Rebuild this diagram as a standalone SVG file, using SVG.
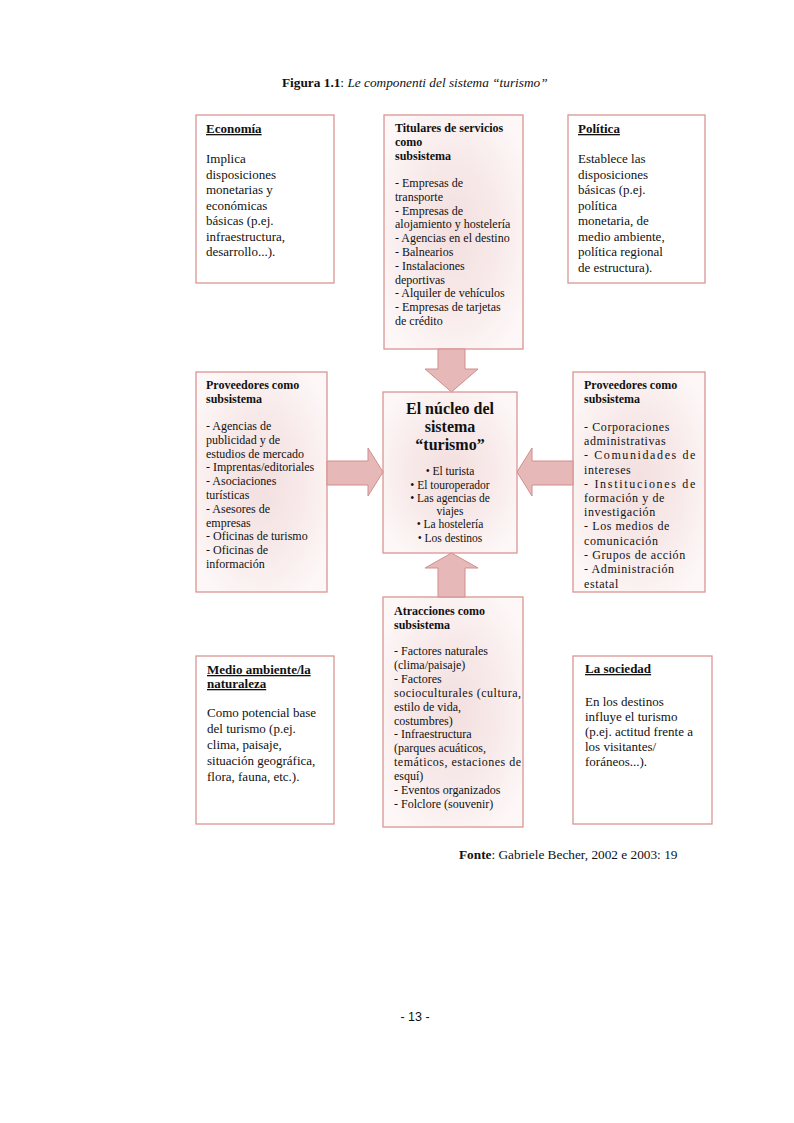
<svg xmlns="http://www.w3.org/2000/svg" width="794" height="1123" viewBox="0 0 794 1123">
<style>
text{font-family:"Liberation Serif","Times New Roman",serif;fill:#111}
.t{font-size:13px}
.h{font-size:13px;font-weight:bold;text-decoration:underline}
.s{font-size:12px}
.b{font-size:11.5px}
.sh{font-size:12px;font-weight:bold}
.plain{fill:#fff;stroke:#d99694;stroke-width:1.3}
.grad{fill:url(#rg);stroke:#d99694;stroke-width:1.3}
.arrow{fill:#e6b9b8;stroke:#d08f8d;stroke-width:1}
</style>
<defs>
<radialGradient id="rg" cx="50%" cy="50%" r="60%">
<stop offset="0" stop-color="#f3dfdf"/>
<stop offset="0.55" stop-color="#f8eaea"/>
<stop offset="1" stop-color="#fdf7f7"/>
</radialGradient>
</defs>
<rect width="794" height="1123" fill="#fff"/>

<text x="282" y="87" font-size="13.3"><tspan font-weight="bold">Figura 1.1</tspan>: <tspan font-style="italic">Le componenti del sistema “turismo”</tspan></text>

<g id="economia">
<rect class="plain" x="196" y="115" width="138" height="168"/>
<text class="h" x="206" y="133">Economía</text>
<text class="t" x="206" y="163">Implica</text>
<text class="t" x="206" y="178.5">disposiciones</text>
<text class="t" x="206" y="194">monetarias y</text>
<text class="t" x="206" y="209.5">económicas</text>
<text class="t" x="206" y="225">básicas (p.ej.</text>
<text class="t" x="206" y="240.5">infraestructura,</text>
<text class="t" x="206" y="256">desarrollo...).</text>
</g>

<g id="titulares">
<rect class="grad" x="384" y="115" width="139" height="234"/>
<text class="sh" x="395" y="132">Titulares de servicios</text>
<text class="sh" x="395" y="146">como</text>
<text class="sh" x="395" y="160">subsistema</text>
<text class="s" x="395" y="187">- Empresas de</text>
<text class="s" x="395" y="200.8">transporte</text>
<text class="s" x="395" y="214.6">- Empresas de</text>
<text class="s" x="395" y="228.4">alojamiento y hostelería</text>
<text class="s" x="395" y="242.2">- Agencias en el destino</text>
<text class="s" x="395" y="256">- Balnearios</text>
<text class="s" x="395" y="269.8">- Instalaciones</text>
<text class="s" x="395" y="283.6">deportivas</text>
<text class="s" x="395" y="297.4">- Alquiler de vehículos</text>
<text class="s" x="395" y="311.2">- Empresas de tarjetas</text>
<text class="s" x="395" y="325">de crédito</text>
</g>

<g id="politica">
<rect class="plain" x="568" y="115" width="137" height="168"/>
<text class="h" x="578" y="133">Política</text>
<text class="t" x="578" y="163">Establece las</text>
<text class="t" x="578" y="178.5">disposiciones</text>
<text class="t" x="578" y="194">básicas (p.ej.</text>
<text class="t" x="578" y="209.5">política</text>
<text class="t" x="578" y="225">monetaria, de</text>
<text class="t" x="578" y="240.5">medio ambiente,</text>
<text class="t" x="578" y="256">política regional</text>
<text class="t" x="578" y="271.5">de estructura).</text>
</g>

<g id="proveedores-izq">
<rect class="grad" x="196" y="372" width="131" height="220"/>
<text class="sh" x="206" y="389">Proveedores como</text>
<text class="sh" x="206" y="403">subsistema</text>
<text class="s" x="206" y="430">- Agencias de</text>
<text class="s" x="206" y="443.8">publicidad y de</text>
<text class="s" x="206" y="457.6">estudios de mercado</text>
<text class="s" x="206" y="471.4">- Imprentas/editoriales</text>
<text class="s" x="206" y="485.2">- Asociaciones</text>
<text class="s" x="206" y="499">turísticas</text>
<text class="s" x="206" y="512.8">- Asesores de</text>
<text class="s" x="206" y="526.6">empresas</text>
<text class="s" x="206" y="540.4">- Oficinas de turismo</text>
<text class="s" x="206" y="554.2">- Oficinas de</text>
<text class="s" x="206" y="568">información</text>
</g>

<g id="nucleo">
<rect class="grad" x="383" y="392" width="134" height="161"/>
<g text-anchor="middle">
<text x="450" y="414" font-size="16" font-weight="bold">El núcleo del</text>
<text x="450" y="432" font-size="16" font-weight="bold">sistema</text>
<text x="450" y="450" font-size="16" font-weight="bold">“turismo”</text>
<text class="b" x="450" y="475">• El turista</text>
<text class="b" x="450" y="488.5">• El touroperador</text>
<text class="b" x="450" y="502">• Las agencias de</text>
<text class="b" x="450" y="514.5">viajes</text>
<text class="b" x="450" y="528">• La hostelería</text>
<text class="b" x="450" y="541.5">• Los destinos</text>
</g>
</g>

<g id="proveedores-der">
<rect class="grad" x="573" y="372" width="132" height="220"/>
<text class="sh" x="584" y="389">Proveedores como</text>
<text class="sh" x="584" y="403">subsistema</text>
<g letter-spacing="0.6">
<text class="s" x="584" y="431">- Corporaciones</text>
<text class="s" x="584" y="445.2">administrativas</text>
<text class="s" x="584" y="459.4" textLength="112" lengthAdjust="spacing">- Comunidades de</text>
<text class="s" x="584" y="473.6">intereses</text>
<text class="s" x="584" y="487.8" textLength="112" lengthAdjust="spacing">- Instituciones de</text>
<text class="s" x="584" y="502">formación y de</text>
<text class="s" x="584" y="516.2">investigación</text>
<text class="s" x="584" y="530.4">- Los medios de</text>
<text class="s" x="584" y="544.6">comunicación</text>
<text class="s" x="584" y="558.8">- Grupos de acción</text>
<text class="s" x="584" y="573">- Administración</text>
<text class="s" x="584" y="588">estatal</text>
</g>
</g>

<g id="atracciones">
<rect class="grad" x="383" y="597" width="140" height="230"/>
<text class="sh" x="394" y="615">Atracciones como</text>
<text class="sh" x="394" y="629">subsistema</text>
<text class="s" x="394" y="655">- Factores naturales</text>
<text class="s" x="394" y="668.9">(clima/paisaje)</text>
<text class="s" x="394" y="682.8">- Factores</text>
<text class="s" x="394" y="696.7" textLength="127" lengthAdjust="spacing">socioculturales (cultura,</text>
<text class="s" x="394" y="710.6">estilo de vida,</text>
<text class="s" x="394" y="724.5">costumbres)</text>
<text class="s" x="394" y="738.4">- Infraestructura</text>
<text class="s" x="394" y="752.3">(parques acuáticos,</text>
<text class="s" x="394" y="766.2" textLength="127" lengthAdjust="spacing">temáticos, estaciones de</text>
<text class="s" x="394" y="780.1">esquí)</text>
<text class="s" x="394" y="794">- Eventos organizados</text>
<text class="s" x="394" y="808">- Folclore (souvenir)</text>
</g>

<g id="medio-ambiente">
<rect class="plain" x="196" y="656" width="138" height="168"/>
<text class="h" x="207" y="674">Medio ambiente/la</text>
<text class="h" x="207" y="688">naturaleza</text>
<text class="t" x="207" y="717">Como potencial base</text>
<text class="t" x="207" y="733">del turismo (p.ej.</text>
<text class="t" x="207" y="749">clima, paisaje,</text>
<text class="t" x="207" y="765">situación geográfica,</text>
<text class="t" x="207" y="781">flora, fauna, etc.).</text>
</g>

<g id="sociedad">
<rect class="plain" x="573" y="656" width="139" height="168"/>
<text class="h" x="585" y="673">La sociedad</text>
<text class="t" x="585" y="706">En los destinos</text>
<text class="t" x="585" y="721">influye el turismo</text>
<text class="t" x="585" y="736">(p.ej. actitud frente a</text>
<text class="t" x="585" y="751">los visitantes/</text>
<text class="t" x="585" y="766">foráneos...).</text>
</g>

<g id="connectors">
<polygon class="arrow" points="438,349 465,349 465,369 478,369 451.5,392 425,369 438,369"/>
<polygon class="arrow" points="438,597 465,597 465,568 478,568 451.5,553 425,568 438,568"/>
<polygon class="arrow" points="327,461 368,461 368,448 383,472 368,496 368,485 327,485"/>
<polygon class="arrow" points="573,461 532,461 532,448 517,472 532,496 532,485 573,485"/>
</g>

<text x="459" y="859" font-size="13.3"><tspan font-weight="bold">Fonte</tspan>: Gabriele Becher, 2002 e 2003: 19</text>

<text x="415" y="1021" font-size="12.5" text-anchor="middle" style="font-family:'Liberation Sans',Arial,sans-serif">- 13 -</text>
</svg>
